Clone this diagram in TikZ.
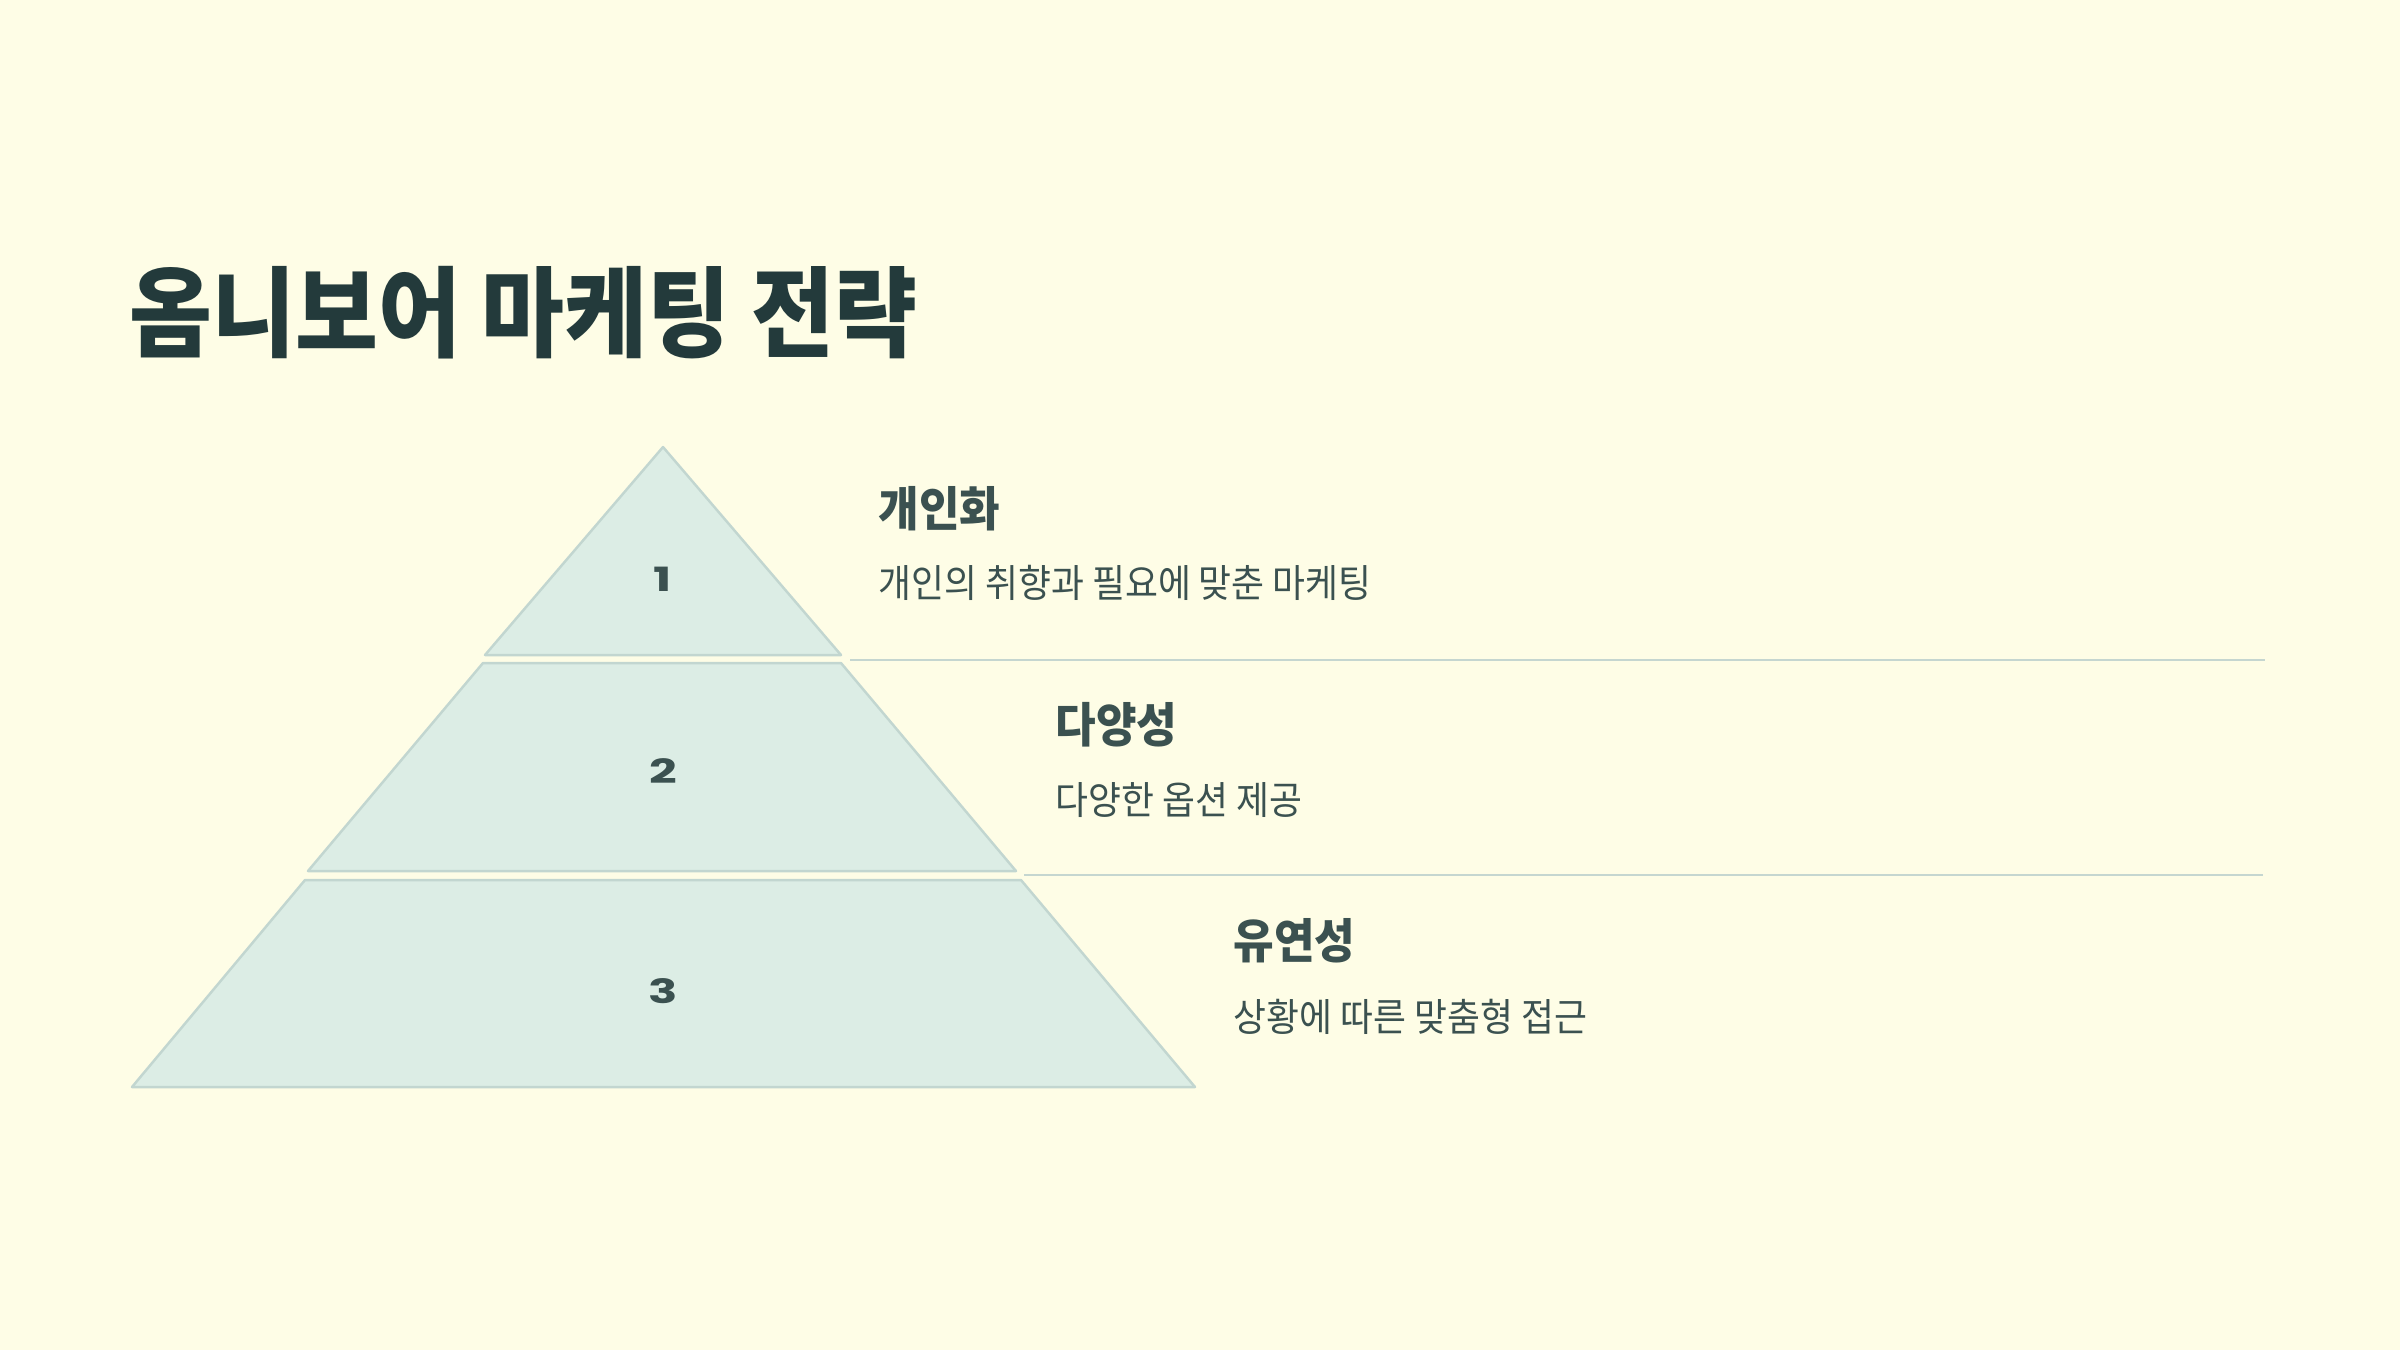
\documentclass[tikz,border=0pt]{standalone}
\usepackage{fontspec}
\newfontfamily\kr{Noto Sans CJK KR}[FakeStretch=0.925]
\newfontfamily\krh{Noto Sans CJK KR}[FakeStretch=0.93]
\newfontfamily\krt{Noto Sans CJK KR}[FakeStretch=0.915]
\newfontfamily\numf{Poppins}[FakeStretch=1.45]
\definecolor{bgc}{HTML}{FEFDE6}
\definecolor{tierfill}{HTML}{DCEDE5}
\definecolor{tierline}{HTML}{C2D6D0}
\definecolor{sepline}{HTML}{C5D6D0}
\definecolor{titlec}{HTML}{233A3B}
\definecolor{textc}{HTML}{3B5150}
\begin{document}
\begin{tikzpicture}[x=0.01cm,y=-0.01cm,
  tier/.style={fill=tierfill, draw=tierline, line width=0.7pt, line join=round},
  sepl/.style={draw=sepline, line width=0.6pt},
  num/.style={font=\numf\bfseries\fontsize{9.5}{11}\selectfont, text=textc, inner sep=0},
  head/.style={anchor=west, inner sep=0, font=\krh\bfseries\fontsize{13.5}{16}\selectfont, text=textc},
  desc/.style={anchor=west, inner sep=0, font=\kr\fontsize{11}{13}\selectfont, text=textc},
  titlest/.style={anchor=west, inner sep=0, font=\krt\bfseries\fontsize{28}{32}\selectfont, text=titlec}
]
\fill[bgc] (0,0) rectangle (2400,1350);
\useasboundingbox (0,0) rectangle (2400,1350);

\node[titlest] (title) at (129,313) {옴니보어 마케팅 전략};

% tiers
\coordinate (t1a) at (663,447);
\coordinate (t1r) at (841,655);
\coordinate (t1l) at (485,655);
\draw[tier] (t1a) -- (t1r) -- (t1l) -- cycle;

\coordinate (t2tl) at (483,663);
\coordinate (t2tr) at (841,663);
\coordinate (t2br) at (1016,871);
\coordinate (t2bl) at (308,871);
\draw[tier] (t2tl) -- (t2tr) -- (t2br) -- (t2bl) -- cycle;

\coordinate (t3tl) at (305,880);
\coordinate (t3tr) at (1021,880);
\coordinate (t3br) at (1195,1087);
\coordinate (t3bl) at (132,1087);
\draw[tier] (t3tl) -- (t3tr) -- (t3br) -- (t3bl) -- cycle;

\node[num] (n1) at (663,579) {1};
\node[num] (n2) at (663,771) {2};
\node[num] (n3) at (663,991) {3};

% separators
\coordinate (s1a) at (850,660);
\coordinate (s1b) at (2265,660);
\coordinate (s2a) at (1024,875);
\coordinate (s2b) at (2263,875);
\draw[sepl] (s1a) -- (s1b);
\draw[sepl] (s2a) -- (s2b);

% texts
\node[head] (h1) at (878,509) {개인화};
\node[desc] (d1) at (878,583) {개인의 취향과 필요에 맞춘 마케팅};
\node[head] (h2) at (1055,725) {다양성};
\node[desc] (d2) at (1055,800) {다양한 옵션 제공};
\node[head] (h3) at (1233,941) {유연성};
\node[desc] (d3) at (1233,1017) {상황에 따른 맞춤형 접근};
\end{tikzpicture}
\end{document}
